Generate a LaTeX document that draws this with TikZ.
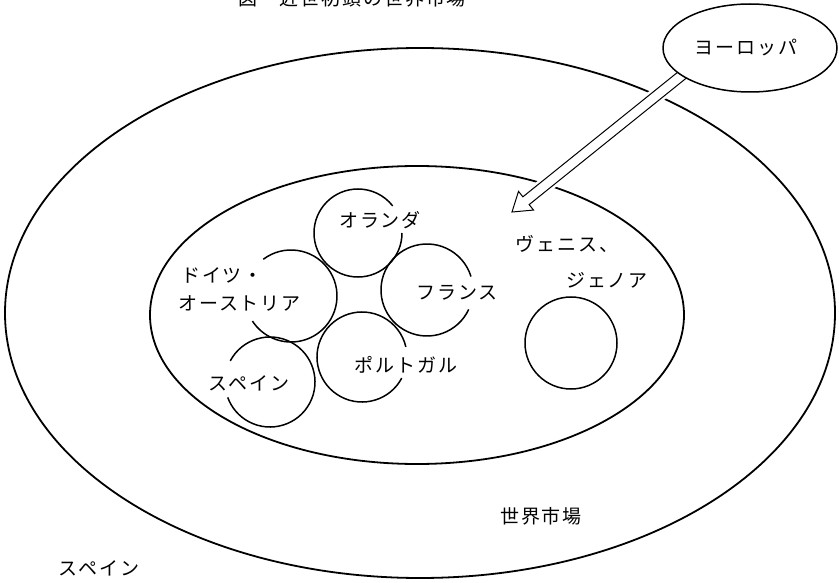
\documentclass[tikz,border=0pt]{standalone}
\usepackage{fontspec}
\newfontfamily\jp[LetterSpace=10]{Noto Sans CJK JP}
\usetikzlibrary{shapes.geometric,calc}
\pgfdeclarelayer{bg}
\pgfsetlayers{bg,main}
\begin{document}
\begin{tikzpicture}[x=1pt,y=-1pt,
  lbl/.style={inner sep=0pt, font=\jp\fontsize{19}{22}\selectfont},
  ring/.style={line width=1.5pt},
  bigring/.style={line width=1.8pt},
  arrowbody/.style={line width=1pt, fill=white, line join=miter},
]
\useasboundingbox (0,0) rectangle (839,583);

% Europe ellipse node
\node[ellipse, draw, line width=1.5pt, fill=white, minimum width=174pt, minimum height=88pt, inner sep=0pt] (eu) at (750,48) {};
\node[lbl] (eut) at (746,48) {ヨーロッパ};

\begin{pgfonlayer}{bg}
  % outer and inner ellipses
  \draw[bigring] (420,313) ellipse [x radius=415, y radius=265];
  \draw[bigring] (417,315) ellipse [x radius=267, y radius=149];
  % hollow arrow from Europe
  \coordinate (tip) at (512,212);
  \coordinate (as) at (eu.202);
  \coordinate (as0) at ($(as)!-6pt!(tip)$);
  \coordinate (hb) at ($(tip)!18pt!(as)$);
  \draw[white, line width=16pt, shorten <=6pt, shorten >=24pt] (as) -- (tip);
  \draw[arrowbody] ($(as0)!5pt!-90:(tip)$) -- ($(hb)!5pt!90:(as)$) -- ($(hb)!12pt!90:(as)$) -- (tip) -- ($(hb)!12pt!-90:(as)$) -- ($(hb)!5pt!-90:(as)$) -- ($(as0)!5pt!90:(tip)$);
\end{pgfonlayer}

% country circles (open where the labels pass)
\draw[ring] (358,233) ++(0:44) arc[start angle=0, end angle=322, radius=44];
\draw[ring] (291,296) ++(233:46) arc[start angle=233, end angle=507, radius=46];
\draw[ring] (427,290) ++(25:46) arc[start angle=25, end angle=343, radius=46];
\draw[ring] (362,357) ++(28:45) arc[start angle=28, end angle=347, radius=45];
\draw[ring] (270,382) ++(208:45) arc[start angle=208, end angle=520, radius=45];
\draw[ring] (571,343) circle[radius=46];

% labels
\node[lbl] (title) at (352,-2) {図　近世初頭の世界市場};
\node[lbl] (ora) at (380,220) {オランダ};
\node[lbl] (fra) at (457,293) {フランス};
\node[lbl] (por) at (406,365) {ポルトガル};
\node[lbl] (spa) at (249,383) {スペイン};
\node[lbl, anchor=west] (doi1) at (181,275) {ドイツ・};
\node[lbl, anchor=west] (doi2) at (178,303) {オーストリア};
\node[lbl] (ven) at (567,244) {ヴェニス、};
\node[lbl] (gen) at (607,280) {ジェノア};
\node[lbl] (wm) at (541,516) {世界市場};
\node[lbl] (spb) at (99,568) {スペイン};
\end{tikzpicture}
\end{document}
